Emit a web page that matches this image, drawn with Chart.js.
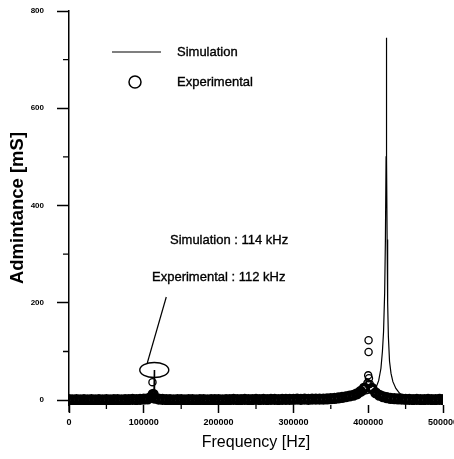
<!DOCTYPE html>
<html>
<head>
<meta charset="utf-8">
<title>Admittance vs frequency</title>
<script src="https://cdn.jsdelivr.net/npm/chart.js@4.4.1/dist/chart.umd.min.js"></script>
<style>
  html, body { margin: 0; padding: 0; background: #fff; }
  canvas { display: block; }
</style>
</head>
<body>
<canvas id="admChart" width="454" height="459"></canvas>
<script>
"use strict"

// axis ticks
const xTicks = [0, 100000, 200000, 300000, 400000, 500000];
const xMinor = [50000, 150000, 250000, 350000, 450000];
const yTicks = [0, 200, 400, 600, 800];
const yMinor = [100, 300, 500, 700];

// simulated admittance (kHz, mS)
const simFreqKHz = [0, 20, 50, 80, 100, 108, 111, 112.5, 113.5, 114, 114.5, 115.5, 117, 120, 150, 200, 250, 300, 340, 370, 390, 400,
  405, 410, 414, 417, 419, 420.5, 422, 423, 423.9, 424.3, 424.7, 425.3, 426, 427, 428.5, 430.5, 433, 437, 442, 449, 460, 480, 500];
const simAdm = [0.5, 0.6, 0.8, 1.2, 2, 3, 5, 9, 20, 62, 20, 8, 4, 2.5, 1.5, 1.5, 2, 3, 5, 8, 11, 14,
  17, 24, 40, 65, 100, 140, 220, 330, 500, 745, 500, 330, 200, 130, 80, 55, 38, 24, 14, 7, 4, 2, 1.5];

// measured admittance (kHz, mS)
const expFreqKHz = [0, 5, 10, 15, 20, 25, 30, 35, 40, 45, 50, 55, 60, 65, 70, 75, 80, 85, 90, 95,
  100, 105, 110, 115, 120, 125, 130, 135, 140, 145, 150, 155, 160, 165, 170, 175, 180, 185, 190, 195,
  200, 205, 210, 215, 220, 225, 230, 235, 240, 245, 250, 255, 260, 265, 270, 275, 280, 285, 290, 295,
  300, 305, 310, 315, 320, 325, 330, 335, 340, 345, 350, 355, 360, 365, 370, 375, 380, 385, 390, 395,
  400, 405, 410, 415, 420, 425, 430, 435, 440, 445, 450, 455, 460, 465, 470, 475, 480, 485, 490, 495, 500,
  111.6, 112.5, 399, 400, 400.5, 400.5, 401, 402];
const expAdm = [1, 0.5, 1, 0.5, 1, 0.5, 1, 0.5, 1, 0.5, 1, 0.5, 1, 1, 0.5, 1, 1, 1.5, 1, 1.5,
  2, 2.5, 6, 4, 2, 1.5, 1, 1, 0.5, 1, 1, 0.5, 1, 1, 0.5, 1, 1, 0.5, 1, 1,
  1, 0.5, 1, 1, 1.5, 1, 1, 1.5, 1, 1, 1.5, 1, 1.5, 1, 1.5, 1.5, 1, 1.5, 1.5, 1.5,
  1.5, 2, 1.5, 2, 1.5, 2, 2, 2, 2, 2.5, 3, 3.5, 4.5, 5.5, 7, 8.5, 10, 13, 18, 25,
  32, 24, 15, 10, 7, 5, 3.5, 3, 2.5, 2, 1.5, 1.5, 1, 1.5, 1, 1, 1.5, 1, 1, 1.5, 1,
  37, 12, 35, 51, 99, 123, 45, 33];

const simPoints = simFreqKHz.map((f, i) => ({ x: f * 1000, y: simAdm[i] }));
const expPoints = expFreqKHz.map((f, i) => ({ x: f * 1000, y: expAdm[i] }));

const FAMILY = '"Liberation Sans", Arial, sans-serif';
const TEXT_FONT = "13px " + FAMILY;

// write text slightly heavier, like the printed labels
function darkText(ctx, str, x, y) {
  ctx.fillText(str, x, y);
  ctx.strokeText(str, x, y);
}

// minor ticks, legend and the resonance callout
const extras = {
  id: "extras",
  afterDraw(chart) {
    const { ctx, chartArea, scales } = chart;
    const x = scales.x, y = scales.y;
    ctx.save();
    ctx.strokeStyle = "#000";
    ctx.fillStyle = "#000";
    ctx.lineWidth = 1.3;

    ctx.beginPath();
    yMinor.forEach((v) => {
      const py = y.getPixelForValue(v);
      ctx.moveTo(chartArea.left - 6, py);
      ctx.lineTo(chartArea.left, py);
    });
    xMinor.forEach((v) => {
      const px = x.getPixelForValue(v);
      ctx.moveTo(px, chartArea.bottom);
      ctx.lineTo(px, chartArea.bottom + 4);
    });
    // axis line runs a little below the zero band
    ctx.moveTo(chartArea.left, chartArea.bottom);
    ctx.lineTo(chartArea.left, chartArea.bottom + 7);
    ctx.stroke();

    // legend
    ctx.lineWidth = 1.2;
    ctx.beginPath();
    ctx.moveTo(112, 52);
    ctx.lineTo(161, 52);
    ctx.stroke();
    ctx.lineWidth = 1.5;
    ctx.beginPath();
    ctx.arc(135, 82, 6, 0, Math.PI * 2);
    ctx.stroke();
    ctx.font = TEXT_FONT;
    ctx.textBaseline = "middle";
    ctx.textAlign = "left";
    ctx.lineWidth = 0.35;
    darkText(ctx, "Simulation", 177, 52);
    darkText(ctx, "Experimental", 177, 82);

    // callout around the first resonance
    const cx = x.getPixelForValue(114000);
    const cy = y.getPixelForValue(62);
    ctx.lineWidth = 1.4;
    ctx.beginPath();
    ctx.ellipse(cx, cy, 14.5, 7.5, 0, 0, Math.PI * 2);
    ctx.stroke();
    ctx.lineWidth = 1.2;
    ctx.beginPath();
    ctx.moveTo(cx - 7, cy - 7);
    ctx.lineTo(cx + 12, cy - 73);
    ctx.stroke();
    ctx.lineWidth = 0.35;
    darkText(ctx, "Simulation : 114 kHz", 170, 240);
    darkText(ctx, "Experimental : 112 kHz", 152, 277);
    ctx.restore();
  }
};

// the dense zero-level points merge into one solid band
const isLone = (c) => c.raw && c.raw.y > 30;

new Chart(document.getElementById("admChart"), {
  type: "scatter",
  data: {
    datasets: [
      {
        label: "Experimental",
        data: expPoints,
        showLine: false,
        pointStyle: "circle",
        pointRadius: (c) => (isLone(c) ? 3.6 : 3.8),
        pointBorderWidth: (c) => (isLone(c) ? 1.3 : 3.6),
        pointBorderColor: "#000",
        pointBackgroundColor: "rgba(255,255,255,0)",
        order: 0
      },
      {
        label: "Simulation",
        data: simPoints,
        showLine: true,
        borderColor: "#000",
        borderWidth: 1.2,
        pointRadius: 0,
        tension: 0,
        order: 1
      }
    ]
  },
  plugins: [extras],
  options: {
    responsive: false,
    animation: false,
    layout: { padding: { top: 11, right: 11, left: 0, bottom: 0 } },
    plugins: { legend: { display: false }, tooltip: { enabled: false } },
    scales: {
      x: {
        type: "linear",
        min: 0,
        max: 500000,
        afterBuildTicks: (s) => { s.ticks = xTicks.map((v) => ({ value: v })); },
        afterFit: (s) => { s.height = 54; s.paddingLeft = 0; s.paddingRight = 0; },
        border: { display: false },
        grid: { drawOnChartArea: false, tickLength: 8, tickWidth: 1.5, tickColor: "#000" },
        ticks: { color: "#000", font: { family: FAMILY, size: 9, weight: "bold" }, padding: 4, maxRotation: 0, autoSkip: false, callback: (v) => String(v) },
        title: {
          display: true,
          text: "Frequency [Hz]",
          color: "#000",
          font: { family: FAMILY, size: 16 },
          padding: { top: 0, bottom: 7 }
        }
      },
      y: {
        min: -10,
        max: 800,
        afterBuildTicks: (s) => { s.ticks = yTicks.map((v) => ({ value: v })); },
        afterFit: (s) => { s.width = 69; s.paddingTop = 0; s.paddingBottom = 0; },
        border: { display: true, color: "#000", width: 1.5 },
        grid: { drawOnChartArea: false, tickLength: 12, tickWidth: 1.5, tickColor: "#000" },
        ticks: { color: "#000", font: { family: FAMILY, size: 8, weight: "bold" }, padding: 13, autoSkip: false },
        title: {
          display: true,
          text: "Admintance [mS]",
          color: "#000",
          font: { family: FAMILY, size: 18.5, weight: "bold" },
          padding: { top: 7, bottom: 0 }
        }
      }
    }
  }
});
</script>
</body>
</html>
